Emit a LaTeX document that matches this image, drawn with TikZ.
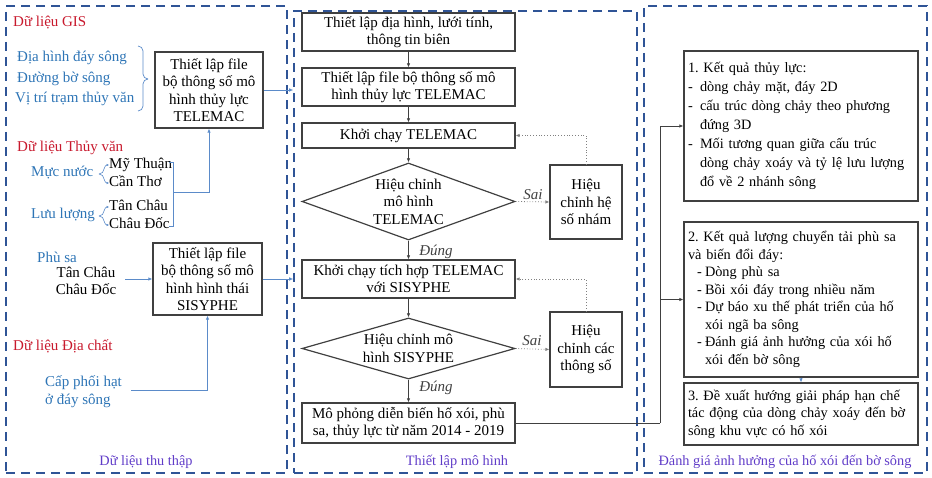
\documentclass[tikz,border=0pt]{standalone}
\usepackage{fontspec}
\setmainfont{Liberation Serif}
\usetikzlibrary{shapes.geometric,arrows.meta,calc}
\frenchspacing
\definecolor{panelc}{RGB}{47,84,150}
\definecolor{redt}{RGB}{200,25,45}
\definecolor{bluet}{RGB}{46,117,182}
\definecolor{purplet}{RGB}{96,60,200}
\definecolor{linkc}{RGB}{91,139,201}
\definecolor{boxc}{RGB}{64,64,64}
\newcommand{\fs}{\fontsize{15pt}{17.5pt}\selectfont}
\newcommand{\fsr}{\fontsize{14.3pt}{17.5pt}\selectfont}
\newcommand{\fsra}{\fontsize{14.3pt}{19pt}\selectfont}
\newcommand{\dl}[1]{\makebox[12pt][l]{-}#1}
\newcommand{\dlb}[1]{\hspace*{9pt}\makebox[8pt][l]{-}#1}
\tikzset{
  panel/.style={draw=panelc, line width=1.6pt, dash pattern=on 9pt off 6pt},
  lbl/.style={inner sep=0pt, font=\fs, text height=11pt, text depth=3.5pt},
  boxm/.style={draw=boxc, line width=1.2pt, font=\fs, align=center, inner sep=2pt},
  dia/.style={draw=boxc, line width=1.2pt, font=\fs, align=center, diamond, aspect=2.77, inner sep=0pt},
  resbox/.style={draw=boxc, line width=1.2pt, font=\fsr, align=left, text width=226pt, inner xsep=4pt, minimum width=234pt},
  arr/.style={draw=boxc, line width=0.7pt, -{Latex[length=4pt,width=3.5pt]}},
  darr/.style={draw=gray, line width=0.8pt, dotted, -{Latex[length=4pt,width=3.5pt]}},
  larr/.style={draw=linkc, line width=0.7pt, -{Latex[length=4pt,width=3.5pt]}},
  lline/.style={draw=linkc, line width=0.7pt},
  sarr/.style={draw=linkc, line width=0.6pt, -{Latex[length=2.5pt,width=2.5pt]}},
  captxt/.style={inner sep=0pt, font=\fsr, text=purplet},
  labtxt/.style={inner sep=0pt, font=\fs\itshape, text=boxc},
}
\begin{document}
\begin{tikzpicture}[x=1pt,y=-1pt]
\useasboundingbox (0,0) rectangle (932,478);
% panels
\node[panel, minimum width=281pt, minimum height=467pt, inner sep=0pt] (pL) at (146.5,239.5) {};
\node[panel, minimum width=343pt, minimum height=462pt, inner sep=0pt] (pM) at (465.5,242) {};
\node[panel, minimum width=283pt, minimum height=467pt, inner sep=0pt] (pR) at (785.5,239.5) {};

% ---------- left panel ----------
\node[lbl, text=redt, anchor=west] (gis) at (13,23) {Dữ liệu GIS};
\node[lbl, text=bluet, anchor=west] (g1) at (17,58) {Địa hình đáy sông};
\node[lbl, text=bluet, anchor=west] (g2) at (17,79) {Đường bờ sông};
\node[lbl, text=bluet, anchor=west] (g3) at (15,99) {Vị trí trạm thủy văn};
\coordinate (gbt) at (138,46);
\coordinate (gbb) at (138,111);
\coordinate (gbm) at (148,79);
\draw[lline] (gbt) to[out=0,in=90] (143,51) -- (143,74) to[out=-90,in=180] (gbm);
\draw[lline] (gbb) to[out=0,in=-90] (143,106) -- (143,84) to[out=90,in=180] (gbm);

\node[boxm, minimum width=108pt, minimum height=76pt] (tel) at (209,90) {Thiết lập file\\bộ thông số mô\\hình thủy lực\\TELEMAC};

\node[lbl, text=redt, anchor=west] (tv) at (17,148) {Dữ liệu Thủy văn};
\node[lbl, text=bluet, anchor=west] (mn) at (31,173) {Mực nước};
\node[lbl, anchor=west] (mt) at (109,165) {Mỹ Thuận};
\node[lbl, anchor=west] (ct) at (109,183) {Cần Thơ};
\node[lbl, text=bluet, anchor=west] (ll) at (31,215) {Lưu lượng};
\node[lbl, anchor=west] (tc1) at (109,207) {Tân Châu};
\node[lbl, anchor=west] (cd1) at (109,225) {Châu Đốc};
\coordinate (mnb) at (99,174);
\coordinate (llb) at (99,216);
\draw[sarr] (mnb) to[out=0,in=-90] (104,169) to[out=90,in=180] (mt.west);
\draw[sarr] (mnb) to[out=0,in=90] (104,179) to[out=-90,in=180] (ct.west);
\draw[sarr] (llb) to[out=0,in=-90] (104,211) to[out=90,in=180] (tc1.west);
\draw[sarr] (llb) to[out=0,in=90] (104,221) to[out=-90,in=180] (cd1.west);
\coordinate (hbt) at (169,162);
\coordinate (hbb) at (169,226);
\coordinate (hbm) at (173,192);
\draw[lline] (hbt) -- (173,162) -- (173,226) -- (hbb);
\draw[larr] (hbm) -| (tel.south);

\draw[larr] (tel.east) -- (tel.east -| pM.west);

\node[lbl, text=bluet, anchor=west] (ps) at (37,259) {Phù sa};
\node[inner sep=0pt, font=\fs, align=center] (tcd) at (86,281) {Tân Châu\\Châu Đốc};
\node[boxm, minimum width=109pt, minimum height=72pt] (sis) at (207.5,279) {Thiết lập file\\bộ thông số mô\\hình hình thái\\SISYPHE};
\draw[larr] ($(tcd.east |- sis.west)+(9,0)$) -- (sis.west);
\draw[larr] (sis.east) -- (sis.east -| pM.west);

\node[lbl, text=redt, anchor=west] (dc) at (13,347) {Dữ liệu Địa chất};
\node[inner sep=0pt, font=\fs, text=bluet, align=left, anchor=west] (cp) at (45,391.5) {Cấp phối hạt\\ở đáy sông};
\draw[larr] ($(cp.east)+(9,-1)$) -| (sis.south);

\node[captxt] (capL) at (146,462) {Dữ liệu thu thập};

% ---------- middle panel ----------
\node[boxm, minimum width=213pt, minimum height=38pt] (b1) at (408.5,32) {Thiết lập địa hình, lưới tính,\\thông tin biên};
\node[boxm, minimum width=213pt, minimum height=38pt] (b2) at (408.5,87) {Thiết lập file bộ thông số mô\\hình thủy lực TELEMAC};
\node[boxm, minimum width=213pt, minimum height=25pt] (b3) at (408.5,135.5) {Khởi chạy TELEMAC};
\node[dia, minimum width=213pt, minimum height=77pt] (d1) at (408.5,201.5) {Hiệu chỉnh\\mô hình\\TELEMAC};
\node[boxm, minimum width=72pt, minimum height=74pt] (s1) at (586,202) {Hiệu\\chỉnh hệ\\số nhám};
\node[boxm, minimum width=213pt, minimum height=38pt] (b4) at (408.5,279) {Khởi chạy tích hợp TELEMAC\\với SISYPHE};
\node[dia, minimum width=213pt, minimum height=61pt] (d2) at (408.5,348.5) {Hiệu chỉnh mô\\hình SISYPHE};
\node[boxm, minimum width=72pt, minimum height=75pt] (s2) at (586,349.5) {Hiệu\\chỉnh các\\thông số};
\node[boxm, minimum width=213pt, minimum height=40pt] (b5) at (408.5,423) {Mô phỏng diễn biến hố xói, phù\\sa, thủy lực từ năm 2014 - 2019};

\draw[arr] (b1) -- (b2);
\draw[arr] (b2) -- (b3);
\draw[arr] (b3) -- (d1);
\draw[arr] (d1) -- (b4);
\draw[arr] (b4) -- (d2);
\draw[arr] (d2) -- (b5);
\draw[darr] (d1.east) -- (s1.west);
\draw[darr] (s1.north) |- (b3.east);
\draw[darr] (d2.east) -- (s2.west);
\draw[darr] (s2.north) |- (b4.east);
\node[labtxt] (sai1) at (533,195) {Sai};
\node[labtxt] (sai2) at (532,341) {Sai};
\node[labtxt] (dung1) at (436,252) {Đúng};
\node[labtxt] (dung2) at (436,388) {Đúng};

\node[captxt] (capM) at (457,462) {Thiết lập mô hình};

% ---------- right panel ----------
\node[resbox, font=\fsra, minimum height=150pt] (r1) at (801,126) {1. Kết quả thủy lực:\\
\dl{dòng chảy mặt, đáy 2D}\\
\dl{cấu trúc dòng chảy theo phương}\\
\hspace*{12pt}đứng 3D\\
\dl{Mối tương quan giữa cấu trúc}\\
\hspace*{12pt}dòng chảy xoáy và tỷ lệ lưu lượng\\
\hspace*{12pt}đổ về 2 nhánh sông};
\node[resbox, minimum height=155pt] (r2) at (801,299.5) {2. Kết quả lượng chuyển tải phù sa\\
và biến đổi đáy:\\
\dlb{Dòng phù sa}\\
\dlb{Bồi xói đáy trong nhiều năm}\\
\dlb{Dự báo xu thế phát triển của hố}\\
\hspace*{17pt}xói ngã ba sông\\
\dlb{Đánh giá ảnh hưởng của xói hố}\\
\hspace*{17pt}xói đến bờ sông};
\node[resbox, minimum height=62pt] (r3) at (801,414) {3. Đề xuất hướng giải pháp hạn chế\\
tác động của dòng chảy xoáy đến bờ\\
sông khu vực có hố xói};
\draw[larr] (r2) -- (r3);

\coordinate (jn) at (660,423);
\draw[draw=boxc, line width=0.7pt] (b5.east) -- (jn);
\draw[arr] (jn) |- (r1.west);
\draw[arr] (jn |- r2.west) -- (r2.west);

\node[captxt] (capR) at (785,462) {Đánh giá ảnh hưởng của hố xói đến bờ sông};
\end{tikzpicture}
\end{document}
